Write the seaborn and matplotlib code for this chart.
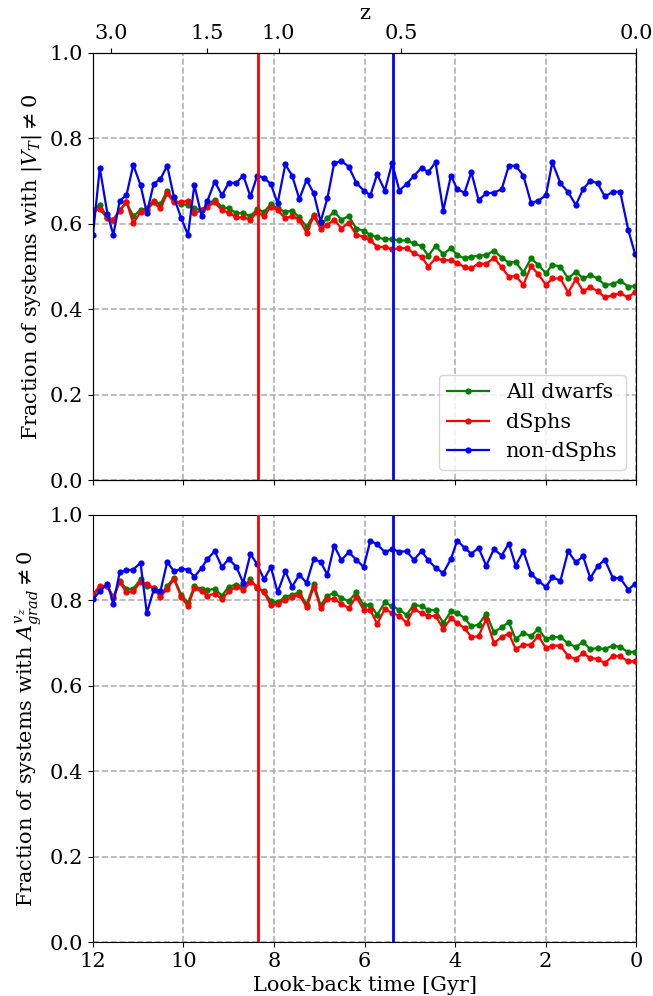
import numpy as np
import pandas as pd
import matplotlib
matplotlib.use("Agg")
import matplotlib.pyplot as plt
from matplotlib.lines import Line2D
import seaborn as sns

# ---------------- data ----------------
lookback = [12.0, 11.85, 11.68, 11.55, 11.41, 11.26, 11.11, 10.95, 10.81, 10.66,
            10.51, 10.36, 10.21, 10.05, 9.90, 9.76, 9.60, 9.47, 9.31, 9.15,
            9.00, 8.83, 8.68, 8.52, 8.37, 8.22, 8.07, 7.92, 7.75, 7.60,
            7.44, 7.28, 7.12, 6.97, 6.82, 6.67, 6.51, 6.35, 6.18, 6.02,
            5.87, 5.72, 5.55, 5.39, 5.23, 5.07, 4.91, 4.74, 4.59, 4.43,
            4.26, 4.09, 3.95, 3.79, 3.64, 3.48, 3.31, 3.14, 2.97, 2.81,
            2.66, 2.49, 2.32, 2.16, 1.99, 1.85, 1.67, 1.50, 1.33, 1.17,
            1.01, 0.85, 0.69, 0.51, 0.35, 0.17, 0.02]

# top panel: fraction with |V_T| != 0
vt_all = [0.632, 0.644, 0.615, 0.610, 0.632, 0.650, 0.618, 0.632, 0.636, 0.654,
          0.646, 0.678, 0.654, 0.646, 0.644, 0.636, 0.632, 0.646, 0.656, 0.639,
          0.636, 0.625, 0.625, 0.618, 0.634, 0.628, 0.646, 0.636, 0.628, 0.631,
          0.615, 0.593, 0.621, 0.597, 0.613, 0.628, 0.610, 0.618, 0.589, 0.584,
          0.574, 0.568, 0.564, 0.564, 0.561, 0.561, 0.554, 0.548, 0.525, 0.548,
          0.529, 0.543, 0.527, 0.519, 0.523, 0.525, 0.527, 0.537, 0.521, 0.509,
          0.511, 0.486, 0.519, 0.504, 0.484, 0.504, 0.500, 0.472, 0.488, 0.472,
          0.480, 0.472, 0.457, 0.459, 0.467, 0.453, 0.454]
vt_dsph = [0.632, 0.634, 0.613, 0.610, 0.630, 0.652, 0.601, 0.628, 0.632, 0.650,
           0.636, 0.671, 0.650, 0.652, 0.653, 0.625, 0.632, 0.640, 0.650, 0.632,
           0.626, 0.615, 0.615, 0.610, 0.628, 0.618, 0.640, 0.632, 0.613, 0.618,
           0.610, 0.579, 0.618, 0.589, 0.597, 0.610, 0.589, 0.603, 0.574, 0.570,
           0.561, 0.546, 0.546, 0.540, 0.543, 0.543, 0.531, 0.523, 0.500, 0.519,
           0.515, 0.515, 0.509, 0.498, 0.496, 0.507, 0.506, 0.521, 0.498, 0.476,
           0.478, 0.457, 0.501, 0.482, 0.457, 0.472, 0.472, 0.439, 0.470, 0.443,
           0.451, 0.443, 0.428, 0.433, 0.437, 0.428, 0.441]
vt_nondsph = [0.574, 0.731, 0.623, 0.574, 0.654, 0.667, 0.738, 0.691, 0.625, 0.693,
              0.705, 0.736, 0.662, 0.613, 0.574, 0.691, 0.618, 0.654, 0.699, 0.667,
              0.696, 0.696, 0.713, 0.664, 0.713, 0.708, 0.693, 0.648, 0.739, 0.713,
              0.658, 0.703, 0.671, 0.605, 0.660, 0.742, 0.747, 0.734, 0.696, 0.678,
              0.667, 0.716, 0.678, 0.742, 0.678, 0.693, 0.712, 0.731, 0.721, 0.744,
              0.631, 0.713, 0.681, 0.673, 0.721, 0.656, 0.671, 0.673, 0.681, 0.736,
              0.736, 0.713, 0.649, 0.654, 0.667, 0.744, 0.695, 0.674, 0.644, 0.681,
              0.701, 0.695, 0.664, 0.675, 0.675, 0.585, 0.529]

# bottom panel: fraction with A_grad^{v_z} != 0
ag_all = [0.813, 0.829, 0.833, 0.808, 0.845, 0.827, 0.827, 0.849, 0.833, 0.829,
          0.811, 0.834, 0.852, 0.813, 0.794, 0.833, 0.827, 0.824, 0.827, 0.811,
          0.832, 0.837, 0.832, 0.849, 0.829, 0.821, 0.798, 0.795, 0.808, 0.813,
          0.819, 0.790, 0.839, 0.788, 0.811, 0.817, 0.806, 0.798, 0.819, 0.788,
          0.790, 0.766, 0.795, 0.786, 0.778, 0.766, 0.790, 0.786, 0.778, 0.777,
          0.747, 0.774, 0.770, 0.759, 0.739, 0.743, 0.769, 0.725, 0.737, 0.749,
          0.709, 0.724, 0.716, 0.733, 0.709, 0.714, 0.714, 0.699, 0.691, 0.702,
          0.686, 0.688, 0.686, 0.694, 0.691, 0.678, 0.680]
ag_dsph = [0.813, 0.834, 0.833, 0.806, 0.843, 0.819, 0.821, 0.843, 0.839, 0.829,
           0.808, 0.827, 0.850, 0.808, 0.786, 0.829, 0.821, 0.811, 0.816, 0.803,
           0.821, 0.832, 0.824, 0.843, 0.832, 0.819, 0.788, 0.792, 0.800, 0.808,
           0.813, 0.784, 0.832, 0.782, 0.803, 0.803, 0.792, 0.782, 0.808, 0.778,
           0.777, 0.745, 0.780, 0.770, 0.764, 0.747, 0.780, 0.770, 0.763, 0.764,
           0.733, 0.758, 0.747, 0.735, 0.714, 0.716, 0.756, 0.700, 0.714, 0.722,
           0.686, 0.696, 0.696, 0.717, 0.688, 0.694, 0.694, 0.669, 0.663, 0.676,
           0.665, 0.663, 0.653, 0.670, 0.669, 0.657, 0.657]
ag_nondsph = [0.803, 0.821, 0.839, 0.792, 0.866, 0.870, 0.872, 0.888, 0.770, 0.824,
              0.821, 0.890, 0.868, 0.874, 0.872, 0.855, 0.876, 0.897, 0.915, 0.878,
              0.897, 0.878, 0.841, 0.909, 0.884, 0.849, 0.878, 0.819, 0.868, 0.832,
              0.860, 0.841, 0.897, 0.890, 0.860, 0.928, 0.894, 0.913, 0.895, 0.878,
              0.940, 0.931, 0.913, 0.920, 0.914, 0.915, 0.895, 0.915, 0.894, 0.876,
              0.864, 0.897, 0.940, 0.923, 0.909, 0.923, 0.881, 0.920, 0.905, 0.933,
              0.881, 0.915, 0.862, 0.846, 0.831, 0.854, 0.846, 0.915, 0.889, 0.903,
              0.852, 0.880, 0.895, 0.852, 0.852, 0.825, 0.839]

series_names = ["All dwarfs", "dSphs", "non-dSphs"]
series_colors = ["green", "red", "blue"]

z_labels = ["3.0", "1.5", "1.0", "0.5", "0.0"]
z_lookback = [11.60, 9.47, 7.90, 5.19, 0.0]

vline_times = [8.35, 5.36]
vline_colors = ["red", "blue"]

# ---------------- plotting ----------------
plt.rcParams["font.family"] = ["DejaVu Serif"]
plt.rcParams["mathtext.fontset"] = "dejavuserif"

FS = 15

fig = plt.figure(figsize=(6.53, 9.96), dpi=100)
ax1 = fig.add_axes([0.1424, 0.518, 0.8316, 0.4288])
ax2 = fig.add_axes([0.1424, 0.0542, 0.8316, 0.4288])

palette = dict(zip(series_names, series_colors))


def long_frame(cols):
    frames = []
    for name, vals in zip(series_names, cols):
        frames.append(pd.DataFrame({"t": lookback, "frac": vals, "sample": name}))
    return pd.concat(frames, ignore_index=True)


panels = [
    (ax1, [vt_all, vt_dsph, vt_nondsph], r"Fraction of systems with $|V_T| \neq 0$"),
    (ax2, [ag_all, ag_dsph, ag_nondsph], r"Fraction of systems with $A^{v_z}_{grad} \neq 0$"),
]

for ax, cols, ylab in panels:
    df = long_frame(cols)
    sns.lineplot(data=df, x="t", y="frac", hue="sample", hue_order=series_names,
                 palette=palette, marker="o", markersize=4.5, markeredgewidth=0,
                 linewidth=1.6, ax=ax, legend=False, zorder=3)
    for tv, c in zip(vline_times, vline_colors):
        ax.axvline(tv, color=c, linewidth=2, zorder=4)
    ax.set_xlim(12, 0)
    ax.set_ylim(0, 1)
    ax.set_xticks([12, 10, 8, 6, 4, 2, 0])
    ax.set_yticks([0.0, 0.2, 0.4, 0.6, 0.8, 1.0])
    ax.grid(True, linestyle="--", color="#b0b0b0", linewidth=1.2, zorder=0)
    ax.set_axisbelow(True)
    ax.tick_params(labelsize=FS)
    ax.set_ylabel(ylab, fontsize=FS)
    ax.set_xlabel("")

ax1.tick_params(axis="x", labelbottom=False)
ax2.set_xlabel("Look-back time [Gyr]", fontsize=FS)

handles = [Line2D([], [], color=c, marker="o", markersize=4.5, markeredgewidth=0,
                  linewidth=1.6) for c in series_colors]
ax1.legend(handles, series_names, loc="lower right", fontsize=FS)

axz = ax1.twiny()
axz.set_xlim(ax1.get_xlim())
axz.set_xticks(z_lookback)
axz.set_xticklabels(z_labels)
axz.tick_params(labelsize=FS)
axz.set_xlabel("z", fontsize=FS)

fig.savefig("out.png", dpi=100)
